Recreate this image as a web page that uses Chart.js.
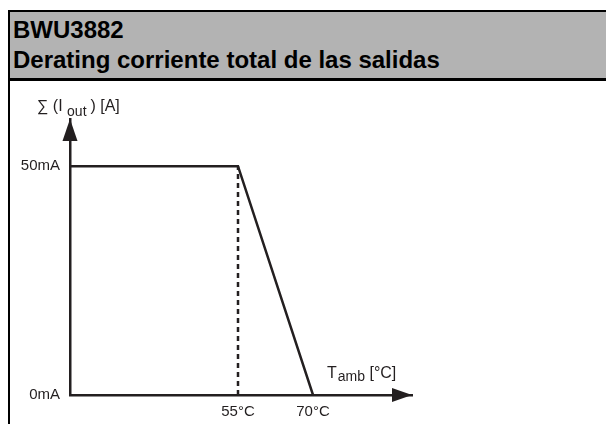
<!DOCTYPE html>
<html>
<head>
<meta charset="utf-8">
<script src="https://cdn.jsdelivr.net/npm/chart.js@4"></script>
<style>
  body { margin: 0; background: #fff; font-family: 'Liberation Sans', Arial, sans-serif; }
  .frame { position: absolute; left: 8px; top: 10px; width: 700px; height: 500px; border: 2px solid #000; box-sizing: border-box; }
  .head { position: absolute; left: 0; top: 0; width: 100%; height: 63px; background: #b3b3b3; border-bottom: 3px solid #000; padding: 3px 0 0 3px; box-sizing: content-box; }
  .head div { font-weight: bold; font-size: 24px; line-height: 30px; color: #000; }
  #chart1 { position: absolute; left: 10px; top: 81px; }
</style>
</head>
<body>
<div class="frame">
  <div class="head">
    <div>BWU3882</div>
    <div>Derating corriente total de las salidas</div>
  </div>
</div>
<canvas id="chart1" width="596" height="343"></canvas>
<script>
// derating curve, temperature in °C, total current in mA
var temps = [21.4, 55, 70];
var currents = [50, 50, 0];
// dashed guide at 55°C
var guideTemps = [55, 55];
var guideCurrents = [0, 50];
var xTicks = [55, 70];
var yTicks = [0, 50];

var ink = '#231f20';
Chart.defaults.font.family = "'Liberation Sans', Arial, sans-serif";
Chart.defaults.color = ink;

function pts(xs, ys) {
	return xs.map(function (x, i) { return { x: x, y: ys[i] }; });
}

var arrows = {
	id: 'arrows',
	afterDraw: function (chart) {
		var ctx = chart.ctx, a = chart.chartArea;
		ctx.save();
		ctx.fillStyle = ink;
		// x arrow
		ctx.beginPath();
		ctx.moveTo(a.right, a.bottom);
		ctx.lineTo(a.right - 20, a.bottom - 7);
		ctx.lineTo(a.right - 20, a.bottom + 7);
		ctx.closePath();
		ctx.fill();
		// y arrow
		ctx.beginPath();
		ctx.moveTo(a.left, a.top);
		ctx.lineTo(a.left - 7.5, a.top + 22);
		ctx.lineTo(a.left + 7.5, a.top + 22);
		ctx.closePath();
		ctx.fill();

		// axis titles with subscripts
		ctx.textBaseline = 'alphabetic';
		ctx.textAlign = 'left';
		var x = a.left - 33, y = 30;
		ctx.font = "16px 'Liberation Sans', Arial, sans-serif";
		ctx.fillText('∑ (I', x, y);
		x += ctx.measureText('∑ (I ').width;
		ctx.font = "14px 'Liberation Sans', Arial, sans-serif";
		ctx.fillText('out', x, y + 5);
		x += ctx.measureText('out ').width;
		ctx.font = "16px 'Liberation Sans', Arial, sans-serif";
		ctx.fillText(') [A]', x, y);

		x = a.left + 257; y = a.bottom - 17;
		ctx.fillText('T', x, y);
		x += ctx.measureText('T').width + 1;
		ctx.font = "14px 'Liberation Sans', Arial, sans-serif";
		ctx.fillText('amb', x, y + 3);
		x += ctx.measureText('amb').width;
		ctx.font = "16px 'Liberation Sans', Arial, sans-serif";
		ctx.fillText(' [°C]', x, y);
		ctx.restore();
	}
};

var ctx = document.getElementById('chart1').getContext('2d');
new Chart(ctx, {
	type: 'line',
	data: {
		datasets: [{
			label: 'Derating',
			data: pts(temps, currents),
			borderColor: ink,
			borderWidth: 2.5,
			pointRadius: 0,
			tension: 0
		}, {
			label: '55°C',
			data: pts(guideTemps, guideCurrents),
			borderColor: ink,
			borderWidth: 2.5,
			borderDash: [5, 4],
			pointRadius: 0
		}]
	},
	plugins: [arrows],
	options: {
		responsive: false,
		animation: false,
		layout: { padding: { top: 38, right: 194, left: 0, bottom: 0 } },
		plugins: { legend: { display: false }, tooltip: { enabled: false } },
		scales: {
			x: {
				type: 'linear',
				min: 21.4,
				max: 89.8,
				grid: { display: false, drawTicks: false },
				border: { display: true, color: ink, width: 2.5 },
				afterBuildTicks: function (s) { s.ticks = xTicks.map(function (v) { return { value: v }; }); },
				afterFit: function (s) { s.height = 29; },
				ticks: {
					padding: 8,
					font: { size: 15 },
					callback: function (v) { return v + '°C'; }
				}
			},
			y: {
				type: 'linear',
				min: 0,
				max: 60.3,
				grid: { display: false, drawTicks: false },
				border: { display: true, color: ink, width: 2.5 },
				afterBuildTicks: function (s) { s.ticks = yTicks.map(function (v) { return { value: v }; }); },
				afterFit: function (s) { s.width = 60; },
				ticks: {
					padding: 10,
					font: { size: 15 },
					callback: function (v) { return v + 'mA'; }
				}
			}
		}
	}
});
</script>
</body>
</html>
